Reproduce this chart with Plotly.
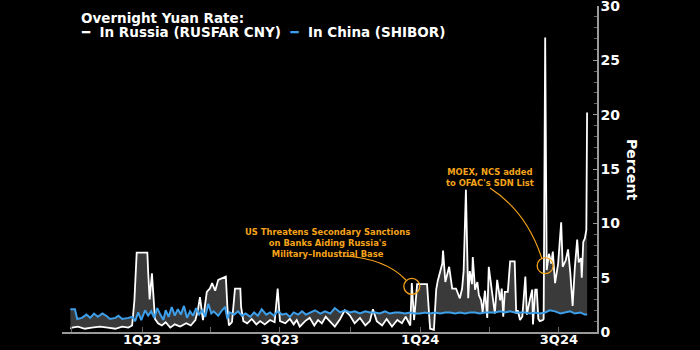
import plotly.graph_objects as go

# Overnight yuan rates, percent
russia_dates = [
    "2022-09-29", "2022-10-01", "2022-10-09", "2022-10-18", "2022-10-27", "2022-11-07",
    "2022-11-17", "2022-11-27", "2022-12-06", "2022-12-14", "2022-12-19", "2022-12-22",
    "2022-12-25", "2023-01-08", "2023-01-09", "2023-01-11", "2023-01-14", "2023-01-18",
    "2023-01-22", "2023-01-27", "2023-02-01", "2023-02-07", "2023-02-13", "2023-02-20",
    "2023-02-28", "2023-03-06", "2023-03-12", "2023-03-15", "2023-03-18", "2023-03-22",
    "2023-03-27", "2023-03-31", "2023-04-03", "2023-04-07", "2023-04-11", "2023-04-17",
    "2023-04-21", "2023-04-23", "2023-04-25", "2023-04-29", "2023-05-03", "2023-05-10",
    "2023-05-11", "2023-05-14", "2023-05-19", "2023-05-25", "2023-05-31", "2023-06-05",
    "2023-06-11", "2023-06-18", "2023-06-24", "2023-06-28", "2023-07-01", "2023-07-08",
    "2023-07-14", "2023-07-19", "2023-07-23", "2023-07-27", "2023-08-03", "2023-08-09",
    "2023-08-15", "2023-08-20", "2023-08-25", "2023-08-30", "2023-09-05", "2023-09-11",
    "2023-09-18", "2023-09-24", "2023-10-01", "2023-10-07", "2023-10-14", "2023-10-21",
    "2023-10-27", "2023-10-31", "2023-11-05", "2023-11-12", "2023-11-18", "2023-11-25",
    "2023-12-02", "2023-12-08", "2023-12-13", "2023-12-19", "2023-12-21", "2023-12-24",
    "2023-12-28", "2024-01-10", "2024-01-14", "2024-01-19", "2024-01-22", "2024-01-24",
    "2024-01-30", "2024-01-31", "2024-02-03", "2024-02-05", "2024-02-08", "2024-02-12",
    "2024-02-17", "2024-02-22", "2024-02-25", "2024-02-27", "2024-03-01", "2024-03-04",
    "2024-03-06", "2024-03-09", "2024-03-10", "2024-03-13", "2024-03-16", "2024-03-18",
    "2024-03-21", "2024-03-23", "2024-03-26", "2024-03-29", "2024-03-31", "2024-04-04",
    "2024-04-08", "2024-04-11", "2024-04-15", "2024-04-17", "2024-04-19", "2024-04-21",
    "2024-04-25", "2024-04-28", "2024-05-04", "2024-05-06", "2024-05-08", "2024-05-11",
    "2024-05-14", "2024-05-18", "2024-05-20", "2024-05-24", "2024-05-27", "2024-05-28",
    "2024-05-31", "2024-06-02", "2024-06-04", "2024-06-06", "2024-06-10", "2024-06-11",
    "2024-06-13", "2024-06-15", "2024-06-18", "2024-06-21", "2024-06-23", "2024-06-26",
    "2024-06-30", "2024-07-04", "2024-07-06", "2024-07-10", "2024-07-13", "2024-07-16",
    "2024-07-18", "2024-07-19", "2024-07-22", "2024-07-25", "2024-07-27", "2024-07-30",
    "2024-07-31", "2024-08-02", "2024-08-04", "2024-08-06", "2024-08-07",
]
russia_values = [
    0.3, 0.4, 0.5, 0.3, 0.4, 0.5,
    0.4, 0.3, 0.5, 0.4, 0.6, 2.9,
    7.3, 7.3, 5.6, 3.0, 5.4, 1.2,
    0.8, 0.6, 0.9, 0.4, 0.7, 0.5,
    0.8, 0.6, 1.1, 1.9, 3.2, 1.1,
    3.7, 4.0, 4.5, 3.8, 4.8, 5.0,
    5.1, 2.3, 0.6, 0.9, 4.0, 4.0,
    2.3, 1.0, 0.8, 1.2, 0.7, 1.0,
    0.7, 1.1, 0.9, 4.0, 1.0, 0.8,
    1.2, 0.7, 1.1, 0.5, 1.0, 1.3,
    0.6, 1.1, 0.8, 1.4, 0.9, 0.5,
    1.2, 2.0, 1.5, 0.8, 1.3, 0.6,
    1.0, 2.1, 1.0, 0.6, 1.2, 0.5,
    1.1, 0.8, 1.4, 0.6, 4.5, 1.1,
    4.4, 4.4, 0.3, 0.2, 3.9, 4.7,
    6.3, 7.5, 4.6, 5.1, 6.0, 4.0,
    4.0, 3.1, 4.0, 5.6, 13.1, 3.1,
    5.6, 4.4, 6.9, 3.9, 4.6, 3.4,
    2.9, 1.8, 3.8, 1.3, 6.0, 3.8,
    1.7, 4.8, 2.9, 4.0, 1.4, 3.7,
    3.7, 6.5, 6.5, 1.7, 2.0, 1.1,
    1.4, 5.1, 1.6, 3.0, 3.9, 0.7,
    3.9, 3.9, 1.2, 1.0, 1.1, 1.2,
    27.1, 5.7, 7.2, 6.3, 7.4, 4.5,
    6.3, 10.1, 6.0, 6.6, 7.6, 5.4,
    3.5, 2.4, 6.0, 8.5, 6.4, 6.8,
    5.0, 8.3, 8.6, 9.4, 20.2,
]

china_dates = [
    "2022-09-29", "2022-10-05", "2022-10-08", "2022-10-14", "2022-10-20", "2022-10-25",
    "2022-10-30", "2022-11-04", "2022-11-10", "2022-11-15", "2022-11-20", "2022-11-27",
    "2022-12-01", "2022-12-06", "2022-12-14", "2022-12-19", "2022-12-23", "2022-12-27",
    "2022-12-31", "2023-01-05", "2023-01-09", "2023-01-13", "2023-01-17", "2023-01-21",
    "2023-01-25", "2023-01-29", "2023-02-01", "2023-02-05", "2023-02-09", "2023-02-13",
    "2023-02-17", "2023-02-21", "2023-02-25", "2023-03-01", "2023-03-05", "2023-03-09",
    "2023-03-13", "2023-03-17", "2023-03-21", "2023-03-25", "2023-03-29", "2023-04-02",
    "2023-04-05", "2023-04-11", "2023-04-16", "2023-04-20", "2023-04-23", "2023-04-26",
    "2023-05-02", "2023-05-07", "2023-05-12", "2023-05-17", "2023-05-23", "2023-05-28",
    "2023-06-02", "2023-06-07", "2023-06-13", "2023-06-18", "2023-06-23", "2023-06-28",
    "2023-07-04", "2023-07-09", "2023-07-14", "2023-07-19", "2023-07-25", "2023-07-30",
    "2023-08-04", "2023-08-09", "2023-08-16", "2023-08-23", "2023-08-29", "2023-09-05",
    "2023-09-11", "2023-09-18", "2023-09-24", "2023-10-01", "2023-10-07", "2023-10-14",
    "2023-10-21", "2023-10-27", "2023-11-03", "2023-11-09", "2023-11-16", "2023-11-22",
    "2023-11-29", "2023-12-05", "2023-12-12", "2023-12-19", "2023-12-25", "2024-01-01",
    "2024-01-07", "2024-01-14", "2024-01-20", "2024-01-27", "2024-02-03", "2024-02-09",
    "2024-02-16", "2024-02-22", "2024-02-29", "2024-03-06", "2024-03-13", "2024-03-19",
    "2024-03-26", "2024-04-02", "2024-04-08", "2024-04-15", "2024-04-21", "2024-04-28",
    "2024-05-04", "2024-05-11", "2024-05-18", "2024-05-24", "2024-05-31", "2024-06-06",
    "2024-06-13", "2024-06-19", "2024-06-26", "2024-07-03", "2024-07-09", "2024-07-16",
    "2024-07-22", "2024-07-29", "2024-08-04", "2024-08-07",
]
china_values = [
    2.1, 2.1, 1.2, 1.3, 1.6, 1.3,
    1.7, 1.4, 1.7, 1.5, 1.2, 1.3,
    1.5, 1.2, 1.3, 1.4, 1.0, 1.8,
    1.1, 2.0, 1.5, 1.9, 1.3, 2.2,
    1.6, 1.1, 2.0, 1.4, 2.3, 1.5,
    2.1, 1.6, 2.4, 1.3, 1.9, 1.5,
    2.2, 1.6, 2.0, 1.4, 2.6, 1.7,
    1.9, 1.5, 2.0, 2.3, 1.2, 1.8,
    1.6, 1.9, 1.5, 1.7, 1.4, 1.8,
    1.5, 2.1, 1.6, 1.8, 1.5, 1.9,
    1.6, 1.7, 1.4, 1.8, 1.6, 1.9,
    1.6, 1.8, 2.0, 1.7, 1.9, 1.7,
    2.2, 1.8, 2.0, 1.8, 1.9, 1.7,
    1.9, 1.8, 1.8, 1.7, 1.9, 1.7,
    1.8, 1.8, 1.7, 1.8, 1.7, 1.7,
    1.8, 1.7, 1.8, 1.7, 1.8, 1.8,
    1.7, 1.8, 1.7, 1.8, 1.8, 1.7,
    1.8, 1.8, 1.8, 1.9, 1.8, 1.9,
    1.8, 1.8, 1.8, 1.7, 1.8, 1.7,
    1.8, 2.0, 1.9, 1.7, 1.8, 1.9,
    1.7, 1.8, 1.6, 1.6,
]

tick_dates = ["2023-01-01", "2023-07-01", "2024-01-01", "2024-07-01"]
tick_labels = ["1Q23", "3Q23", "1Q24", "3Q24"]

# Highlighted events: (date, level, label)
events = [
    ("2023-12-21", 4.2, "US Threatens Secondary Sanctions<br>on Banks Aiding Russia's<br>Military–Industrial Base"),
    ("2024-06-13", 6.1, "MOEX, NCS added<br>to OFAC's SDN List"),
]

WHITE = "#ffffff"
BLUE = "#3d9ee9"
ORANGE = "#f5a31a"
FILL = "#3a3a3a"
AXIS = "#9a9a9a"
FONT = "DejaVu Sans"

W, H = 700, 350
ML, MR, MT, MB = 62, 103, 6, 18
PW, PH = W - ML - MR, H - MT - MB


def px(x):
    return (x - ML) / PW


def py(y):
    return (H - MB - y) / PH


fig = go.Figure()

# invisible China line serving as the other edge of the spread fill
fig.add_trace(go.Scatter(
    x=china_dates, y=china_values, mode="lines",
    line=dict(width=0, color=BLUE), hoverinfo="skip", showlegend=False,
))
fig.add_trace(go.Scatter(
    x=russia_dates, y=russia_values, mode="lines", name="In Russia (RUSFAR CNY)",
    line=dict(width=1.8, color=WHITE), fill="tonexty", fillcolor=FILL, showlegend=False,
))
fig.add_trace(go.Scatter(
    x=china_dates, y=china_values, mode="lines", name="In China (SHIBOR)",
    line=dict(width=2, color=BLUE), showlegend=False,
))

shapes = []
for d, v, _ in events:
    shapes.append(dict(
        type="circle", xref="x", yref="y", xsizemode="pixel", ysizemode="pixel",
        xanchor=d, yanchor=v, x0=-8, x1=8, y0=-8, y1=8,
        line=dict(color=ORANGE, width=1.3),
    ))

# curved leader lines from the labels to the circles
shapes.append(dict(
    type="path", xref="paper", yref="paper",
    path=f"M {px(343)},{py(256)} Q {px(385)},{py(258)} {px(406)},{py(280)}",
    line=dict(color=ORANGE, width=1.2),
))
shapes.append(dict(
    type="path", xref="paper", yref="paper",
    path=f"M {px(490)},{py(188)} Q {px(527)},{py(212)} {px(542)},{py(259)}",
    line=dict(color=ORANGE, width=1.2),
))

annotations = [
    dict(
        xref="paper", yref="paper", x=px(79), y=py(18), xanchor="left", yanchor="middle",
        align="left", showarrow=False, text="<b>Overnight Yuan Rate:</b>",
        font=dict(family=FONT, size=13.5, color=WHITE),
    ),
    dict(
        xref="paper", yref="paper", x=px(79), y=py(32), xanchor="left", yanchor="middle",
        align="left", showarrow=False,
        text=(f"<b><span style='color:{WHITE}'>━</span>&nbsp; In Russia (RUSFAR CNY)&nbsp; "
              f"<span style='color:{BLUE}'>━</span>&nbsp; In China (SHIBOR)</b>"),
        font=dict(family=FONT, size=13.5, color=WHITE),
    ),
    dict(
        xref="paper", yref="paper", x=px(327), y=py(243), xanchor="center", yanchor="middle",
        align="center", showarrow=False, text=f"<b>{events[0][2]}</b>",
        font=dict(family=FONT, size=8.4, color=ORANGE),
    ),
    dict(
        xref="paper", yref="paper", x=px(490), y=py(177), xanchor="center", yanchor="middle",
        align="center", showarrow=False, text=f"<b>{events[1][2]}</b>",
        font=dict(family=FONT, size=8.4, color=ORANGE),
    ),
    dict(
        xref="paper", yref="paper", x=px(632), y=py(169), xanchor="center", yanchor="middle",
        showarrow=False, textangle=90, text="<b>Percent</b>",
        font=dict(family=FONT, size=14, color=WHITE),
    ),
]

fig.update_layout(
    width=W, height=H,
    margin=dict(l=ML, r=MR, t=MT, b=MB, pad=0, autoexpand=False),
    paper_bgcolor="#000000", plot_bgcolor="#000000",
    shapes=shapes, annotations=annotations,
    hovermode=False,
)

fig.update_xaxes(
    type="date", range=["2022-09-18", "2024-08-20"], automargin=False,
    tickvals=tick_dates, ticktext=tick_labels,
    ticks="inside", ticklen=5, tickcolor="#666666",
    minor=dict(ticks="inside", dtick="M3", tick0="2023-01-01", ticklen=5, tickcolor="#666666"),
    showgrid=False, zeroline=False,
    showline=True, linecolor=AXIS, linewidth=1.5,
    tickfont=dict(family=FONT, size=13, color=WHITE, weight="bold"),
    ticklabelstandoff=-5, ticklabeloverflow="allow",
)
fig.update_yaxes(
    side="right", range=[0, 30], automargin=False,
    tickvals=[0, 5, 10, 15, 20, 25, 30],
    ticks="inside", ticklen=4, tickcolor=AXIS,
    minor=dict(ticks="inside", dtick=1, ticklen=3, tickcolor="#666666"),
    showgrid=False, zeroline=False,
    showline=True, linecolor=AXIS, linewidth=1.5,
    tickfont=dict(family=FONT, size=14, color=WHITE, weight="bold"),
    ticklabelstandoff=-1, ticklabeloverflow="allow",
)

fig.write_html("out.html")
